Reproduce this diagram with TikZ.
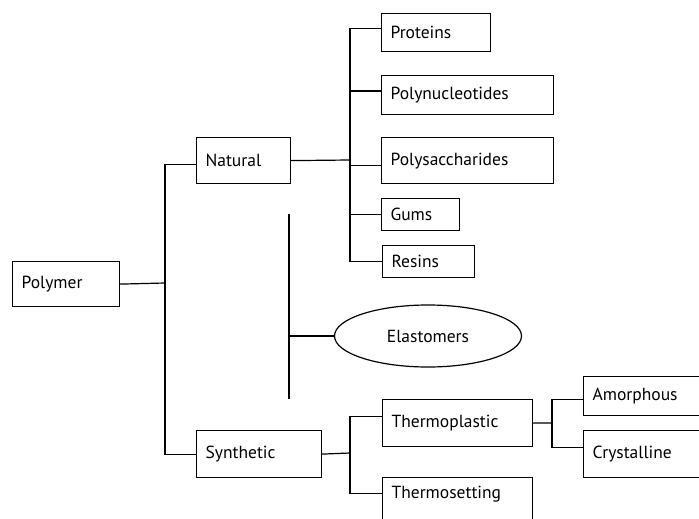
\documentclass[tikz,border=0pt]{standalone}
\usepackage{fontspec}
\setmainfont{PT Sans}
\usetikzlibrary{shapes.geometric}

\begin{document}
\begin{tikzpicture}[x=1pt, y=-1pt, line width=1.2pt,
    box/.style={draw, rectangle, anchor=north west, inner xsep=9pt, inner ysep=0pt, align=left, font=\fontsize{17.5}{20}\selectfont},
    oval/.style={draw, ellipse, inner sep=0pt, font=\fontsize{17.5}{20}\selectfont}]
    \clip (0,0) rectangle (699,519);
    \node[box, minimum width=107pt, minimum height=45pt, text width=89pt] (poly) at (12, 261) {Polymer};
    \node[box, minimum width=94pt, minimum height=46pt, text width=76pt] (nat) at (196, 137) {Natural};
    \node[box, minimum width=125pt, minimum height=47pt, text width=107pt] (syn) at (196, 430) {Synthetic};
    \node[box, minimum width=109pt, minimum height=38pt, text width=91pt] (prot) at (381, 13) {Proteins};
    \node[box, minimum width=172pt, minimum height=39pt, text width=154pt] (pnuc) at (381, 75) {Polynucleotides};
    \node[box, minimum width=172pt, minimum height=46pt, text width=154pt] (psac) at (381, 137) {Polysaccharides};
    \node[box, minimum width=78pt, minimum height=32pt, text width=60pt] (gums) at (381, 198) {Gums};
    \node[box, minimum width=92pt, minimum height=32pt, text width=74pt] (resin) at (382, 245) {Resins};
    \node[oval, minimum width=187pt, minimum height=62pt] (elast) at (428, 336) {Elastomers};
    \node[box, minimum width=150pt, minimum height=47pt, text width=132pt] (tplast) at (382, 399) {Thermoplastic};
    \node[box, minimum width=150pt, minimum height=47pt, text width=132pt, text depth=18pt] (tset) at (382, 477) {Thermosetting};
    \node[box, minimum width=140pt, minimum height=39pt, text width=122pt] (amor) at (583, 376) {Amorphous};
    \node[box, minimum width=140pt, minimum height=47pt, text width=122pt] (cryst) at (583, 430) {Crystalline};
    \coordinate (pbus) at (165, 283);
    \coordinate (nbus) at (350, 160);
    \coordinate (sbus) at (350, 453);
    \coordinate (tbus) at (552, 423);
    \coordinate (etop) at (289, 214);
    \coordinate (ebot) at (289, 399);
    \draw (poly.east) -- (pbus);
    \draw ([yshift=-4pt]nat.west) -| (pbus) |- (syn.west);
    \draw (nat.east) -- (nbus);
    \draw ([yshift=4pt]prot.west) -| (nbus) |- (resin.west);
    \draw ([yshift=4pt]pnuc.west) -- ([yshift=4pt]pnuc.west -| nbus);
    \draw ([yshift=-5pt]psac.west) -- ([yshift=-5pt]psac.west -| nbus);
    \draw (gums.west) -- (gums.west -| nbus);
    \draw (etop) -- (ebot);
    \draw (elast.west) -- (elast.west -| etop);
    \draw (syn.east) -- (sbus);
    \draw ([yshift=7pt]tplast.west) -| (sbus) |- ([yshift=8pt]tset.west);
    \draw (tplast.east) -- (tbus);
    \draw ([yshift=-3pt]amor.west) -| (tbus) |- ([yshift=7pt]cryst.west);
\end{tikzpicture}
\end{document}
